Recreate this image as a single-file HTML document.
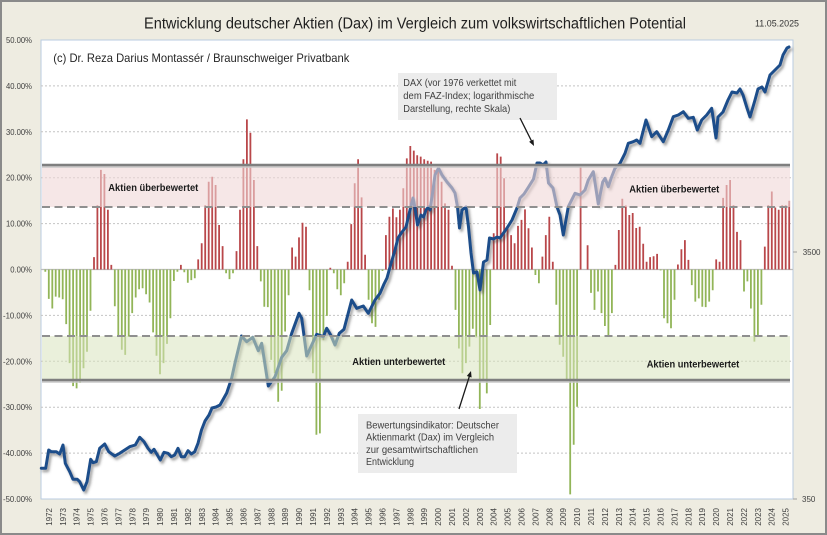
<!DOCTYPE html>
<html><head><meta charset="utf-8"><style>
html,body{margin:0;padding:0;background:#EEECE1;}
svg{display:block;font-family:"Liberation Sans",Arial,sans-serif;}
</style></head><body>
<svg width="827" height="535" viewBox="0 0 827 535" xmlns="http://www.w3.org/2000/svg">
<defs>
<filter id="sh" x="-5%" y="-5%" width="110%" height="110%"><feDropShadow dx="2" dy="2.5" stdDeviation="1.3" flood-color="#404040" flood-opacity="0.5"/></filter>
</defs>
<rect x="1" y="1" width="825" height="533" fill="#EEECE1" stroke="#8A8A8A" stroke-width="2"/>
<rect x="41" y="40" width="752" height="459" fill="#FFFFFF" stroke="#B9CBE0" stroke-width="1"/>
<g stroke="#C4C4C4" stroke-width="1" stroke-dasharray="2,2">
<line x1="41" y1="85.9" x2="793" y2="85.9"/><line x1="41" y1="131.8" x2="793" y2="131.8"/>
<line x1="41" y1="177.7" x2="793" y2="177.7"/><line x1="41" y1="223.6" x2="793" y2="223.6"/>
<line x1="41" y1="315.4" x2="793" y2="315.4"/><line x1="41" y1="361.3" x2="793" y2="361.3"/>
<line x1="41" y1="407.2" x2="793" y2="407.2"/><line x1="41" y1="453.1" x2="793" y2="453.1"/>
</g>
<line x1="41" y1="269.5" x2="793" y2="269.5" stroke="#BDBDBD" stroke-width="1.3"/>
<path fill="none" stroke="#B9474A" stroke-width="1.8" d="M94.0 269.5V257.1M97.4 269.5V205.2M100.9 269.5V169.9M104.4 269.5V174.0M107.9 269.5V209.8M111.3 269.5V264.9M180.9 269.5V264.9M198.2 269.5V259.4M201.7 269.5V243.3M205.2 269.5V205.2M208.7 269.5V181.8M212.2 269.5V176.8M215.6 269.5V185.0M219.1 269.5V225.0M222.6 269.5V246.1M236.5 269.5V251.1M240.0 269.5V209.8M243.4 269.5V159.3M246.9 269.5V119.4M250.4 269.5V132.7M253.9 269.5V180.0M257.3 269.5V246.1M292.1 269.5V247.5M295.6 269.5V256.6M299.0 269.5V237.4M302.5 269.5V222.7M306.0 269.5V226.8M330.3 269.5V267.7M347.7 269.5V261.7M351.2 269.5V224.1M354.7 269.5V183.2M358.1 269.5V159.3M361.6 269.5V197.4M365.1 269.5V254.8M385.9 269.5V235.1M389.4 269.5V216.7M392.9 269.5V208.5M396.4 269.5V217.2M399.9 269.5V209.8M403.3 269.5V188.3M406.8 269.5V158.4M410.3 269.5V146.0M413.8 269.5V150.6M417.2 269.5V155.2M420.7 269.5V156.6M424.2 269.5V159.3M427.7 269.5V160.7M431.1 269.5V161.6M434.6 269.5V169.9M438.1 269.5V168.5M441.6 269.5V181.8M445.0 269.5V203.4M448.5 269.5V209.8M452.0 269.5V265.8M493.7 269.5V233.2M497.2 269.5V153.4M500.7 269.5V156.6M504.1 269.5V178.2M507.6 269.5V228.2M511.1 269.5V235.1M514.6 269.5V243.3M518.0 269.5V225.9M521.5 269.5V219.9M525.0 269.5V209.4M528.5 269.5V228.2M531.9 269.5V247.5M542.4 269.5V256.6M545.8 269.5V235.1M549.3 269.5V216.7M552.8 269.5V261.7M580.6 269.5V166.7M587.6 269.5V245.2M615.4 269.5V264.9M618.8 269.5V230.0M622.3 269.5V198.7M625.8 269.5V205.5M629.3 269.5V215.0M632.7 269.5V213.0M636.2 269.5V228.0M639.7 269.5V226.8M643.2 269.5V243.8M646.6 269.5V261.7M650.1 269.5V257.1M653.6 269.5V256.2M657.1 269.5V253.9M677.9 269.5V264.5M681.4 269.5V249.3M684.9 269.5V240.1M688.4 269.5V259.9M716.2 269.5V259.4M719.6 269.5V261.7M723.1 269.5V197.9M726.6 269.5V185.0M730.1 269.5V180.0M733.5 269.5V205.2M737.0 269.5V231.9M740.5 269.5V240.1M764.8 269.5V246.6M768.3 269.5V205.2M771.8 269.5V191.5M775.3 269.5V207.5M778.7 269.5V209.8M782.2 269.5V205.2M785.7 269.5V205.2M789.2 269.5V200.7"/>
<path fill="none" stroke="#92B558" stroke-width="1.8" d="M45.3 269.5V271.8M48.8 269.5V298.9M52.3 269.5V308.5M55.7 269.5V296.6M59.2 269.5V297.5M62.7 269.5V299.3M66.2 269.5V324.1M69.6 269.5V363.1M73.1 269.5V386.1M76.6 269.5V388.4M80.1 269.5V382.9M83.5 269.5V368.2M87.0 269.5V351.7M90.5 269.5V310.8M114.8 269.5V306.2M118.3 269.5V335.1M121.8 269.5V349.8M125.2 269.5V354.9M128.7 269.5V337.0M132.2 269.5V313.1M135.7 269.5V297.5M139.1 269.5V289.2M142.6 269.5V288.3M146.1 269.5V294.3M149.6 269.5V302.5M153.1 269.5V332.4M156.5 269.5V355.8M160.0 269.5V374.2M163.5 269.5V363.1M167.0 269.5V343.9M170.4 269.5V318.2M173.9 269.5V281.0M177.4 269.5V271.8M184.3 269.5V272.3M187.8 269.5V282.8M191.3 269.5V280.1M194.8 269.5V278.2M226.1 269.5V273.2M229.5 269.5V279.1M233.0 269.5V273.2M260.8 269.5V281.4M264.3 269.5V306.7M267.8 269.5V307.1M271.2 269.5V359.9M274.7 269.5V373.2M278.2 269.5V401.7M281.7 269.5V390.7M285.1 269.5V331.5M288.6 269.5V295.2M309.5 269.5V290.2M312.9 269.5V373.2M316.4 269.5V434.7M319.9 269.5V433.4M323.4 269.5V340.2M326.9 269.5V315.9M333.8 269.5V273.2M337.3 269.5V289.2M340.8 269.5V295.2M344.2 269.5V283.3M368.6 269.5V299.8M372.0 269.5V323.2M375.5 269.5V326.9M379.0 269.5V299.8M382.5 269.5V270.9M455.5 269.5V309.9M458.9 269.5V348.5M462.4 269.5V373.2M465.9 269.5V363.1M469.4 269.5V346.6M472.8 269.5V328.7M476.3 269.5V337.4M479.8 269.5V409.0M483.3 269.5V379.7M486.8 269.5V393.4M490.2 269.5V325.0M535.4 269.5V275.0M538.9 269.5V283.3M556.3 269.5V304.8M559.7 269.5V344.8M563.2 269.5V356.7M566.7 269.5V379.7M570.2 269.5V494.4M573.7 269.5V444.8M577.1 269.5V406.7M591.0 269.5V292.9M594.5 269.5V309.9M598.0 269.5V291.5M601.5 269.5V313.1M604.9 269.5V326.0M608.4 269.5V335.1M611.9 269.5V313.1M660.6 269.5V270.4M664.0 269.5V318.2M667.5 269.5V323.2M671.0 269.5V328.3M674.5 269.5V299.8M691.8 269.5V285.1M695.3 269.5V301.6M698.8 269.5V298.4M702.3 269.5V306.7M705.7 269.5V307.1M709.2 269.5V301.6M712.7 269.5V290.2M744.0 269.5V291.5M747.4 269.5V281.4M750.9 269.5V308.5M754.4 269.5V341.6M757.9 269.5V335.1M761.4 269.5V304.8"/>
<polyline filter="url(#sh)" fill="none" stroke="#1F4D8A" stroke-width="3" stroke-linejoin="round" stroke-linecap="round" points="41.3,468.3 45.7,468.3 48.7,450 51.3,451.7 56.3,451.7 59.7,454 63,445 65.3,463.3 69.7,471.7 73,479.3 77.3,479.3 79.7,481.7 83.7,490 87,481.7 90.7,459.3 93,462.7 96.3,461.7 99.7,448.3 104.7,444 108.7,451.7 114.7,456 119.7,453.3 124.7,450 129.7,446.7 135.3,445 139.7,437.3 144,441.7 148,448.3 151.3,452.3 154,449.3 156.3,453.3 160.3,460 164,452.3 168,453.3 171.3,456.7 174.7,455 178,448.3 181.3,456.7 184.7,456.7 188,450.7 191.3,454 194.7,451.7 198,443.3 201.5,430 205,421 209,415 212,408 216,407 220,405 226.7,393 231.7,378 235,363 241.5,336 246.7,341.7 252.7,337.3 258.3,350.7 261.7,343.3 268.3,386 275,376.7 281.7,357.3 286.7,350.7 291.7,333.3 299,313.3 301.7,318.3 306.7,356 311.7,345 316.7,334.3 323.3,336.7 326.7,328.3 330.7,335 335,345 339.3,333.3 344,329.3 351.7,300 356.7,308.3 363.3,306 368.3,313.3 375,300 380,293.3 384,284 387,278 390,267 395,250 398,238 402,232 406,227 410,210 413,198 415,208 417.5,225 421,215 423.5,217 426,210 428.5,207 430,210 433,190 435,175 438.5,168 442,175 447,182 452,188 455,193 457.5,207 459.5,228 462,210 466,207 468.5,227 471,253 473.5,273 477,272 480,290 483.5,262 487,260 489.5,238 493.5,239 497,237 500,238 503.5,233 507,228 512,220 517,208 520,198 524,194 528.5,187 533.5,179 537,163 540,163 543,165 546,162 548.5,183 553,188 557,207 560,215 563.3,235 568.3,206.7 575,193.3 580,195 585,190 588.3,180 593.3,171.7 598.3,204 602.7,182 605,178.3 608.3,186.7 611.7,176.7 615,168.3 620,163.3 625,153.3 628.3,143.3 633.3,141.7 636.7,140 640,143.3 646,120 651.7,136.7 656.7,131.7 663.3,141.7 668.3,130 673.3,116.7 678.3,115 683.3,111.7 688.3,118.3 693.3,117.3 697.3,130 701.7,120 706.7,115 711.7,108.3 716,138 718,117 723,112 728,100 732,92 737,93 740,89 743,95 747,108 750,117 755,100 758,89 762,87 765,92 770,75 773,72 777,68 780,65 783,55 787,48 789,47"/>
<!-- bands -->
<rect x="42" y="165" width="748" height="42" fill="rgb(240,215,215)" fill-opacity="0.6"/>
<rect x="42" y="336" width="748" height="44" fill="rgb(216,228,190)" fill-opacity="0.55"/>
<line x1="42" y1="167" x2="790" y2="167" stroke="#C8C8C8" stroke-width="1.5"/>
<line x1="42" y1="165" x2="790" y2="165" stroke="#7F7F7F" stroke-width="2.6"/>
<line x1="42" y1="382" x2="790" y2="382" stroke="#C8C8C8" stroke-width="1.5"/>
<line x1="42" y1="380" x2="790" y2="380" stroke="#7F7F7F" stroke-width="2.6"/>
<line x1="42" y1="207" x2="790" y2="207" stroke="#8F8F8F" stroke-width="2" stroke-dasharray="8,4.5"/>
<line x1="42" y1="336" x2="790" y2="336" stroke="#8F8F8F" stroke-width="2" stroke-dasharray="8,4.5"/>
<!-- band labels -->
<g font-weight="bold" font-size="10" fill="#1A1A1A">
<text x="108.3" y="191" textLength="90" lengthAdjust="spacingAndGlyphs">Aktien überbewertet</text>
<text x="629.3" y="192.5" textLength="90" lengthAdjust="spacingAndGlyphs">Aktien überbewertet</text>
<text x="352.3" y="365" textLength="93" lengthAdjust="spacingAndGlyphs">Aktien unterbewertet</text>
<text x="646.7" y="367.5" textLength="92.6" lengthAdjust="spacingAndGlyphs">Aktien unterbewertet</text>
</g>
<!-- annotation boxes -->
<rect x="398" y="73" width="159" height="47" fill="#ECECEC"/>
<g font-size="10.5" fill="#404040">
<text x="403.3" y="86" textLength="113" lengthAdjust="spacingAndGlyphs">DAX (vor 1976 verkettet mit</text>
<text x="403.3" y="99" textLength="131" lengthAdjust="spacingAndGlyphs">dem FAZ-Index; logarithmische</text>
<text x="403.3" y="111.8" textLength="107" lengthAdjust="spacingAndGlyphs">Darstellung, rechte Skala)</text>
</g>
<rect x="358" y="414" width="159" height="59" fill="#ECECEC"/>
<g font-size="10.5" fill="#404040">
<text x="366" y="428.5" textLength="133" lengthAdjust="spacingAndGlyphs">Bewertungsindikator: Deutscher</text>
<text x="366" y="440.7" textLength="128" lengthAdjust="spacingAndGlyphs">Aktienmarkt (Dax) im Vergleich</text>
<text x="366" y="452.9" textLength="112" lengthAdjust="spacingAndGlyphs">zur gesamtwirtschaftlichen</text>
<text x="366" y="465.1" textLength="48" lengthAdjust="spacingAndGlyphs">Entwicklung</text>
</g>
<!-- arrows -->
<line x1="520" y1="118" x2="532" y2="142" stroke="#1A1A1A" stroke-width="1.3"/>
<polygon points="534,146 529.1,141.7 533.5,139.5" fill="#1A1A1A"/>
<line x1="459" y1="409" x2="469.8" y2="375" stroke="#1A1A1A" stroke-width="1.3"/>
<polygon points="471,371 471.6,377.5 466.8,376" fill="#1A1A1A"/>
<!-- title etc -->
<text x="144" y="28.5" font-size="15.5" fill="#1F1F1F" textLength="542" lengthAdjust="spacingAndGlyphs">Entwicklung deutscher Aktien (Dax) im Vergleich zum volkswirtschaftlichen Potential</text>
<text x="755" y="26.5" font-size="9.5" fill="#333333" textLength="44" lengthAdjust="spacingAndGlyphs">11.05.2025</text>
<text x="53.3" y="62" font-size="12" fill="#262626" textLength="296" lengthAdjust="spacingAndGlyphs">(c) Dr. Reza Darius Montassér / Braunschweiger Privatbank</text>
<!-- left axis labels -->
<g font-size="8.5" fill="#404040" text-anchor="end">
<text x="32" y="43" textLength="26" lengthAdjust="spacingAndGlyphs">50.00%</text>
<text x="32" y="88.9" textLength="26" lengthAdjust="spacingAndGlyphs">40.00%</text>
<text x="32" y="134.8" textLength="26" lengthAdjust="spacingAndGlyphs">30.00%</text>
<text x="32" y="180.7" textLength="26" lengthAdjust="spacingAndGlyphs">20.00%</text>
<text x="32" y="226.6" textLength="26" lengthAdjust="spacingAndGlyphs">10.00%</text>
<text x="32" y="272.5" textLength="21.7" lengthAdjust="spacingAndGlyphs">0.00%</text>
<text x="32" y="318.4" textLength="29" lengthAdjust="spacingAndGlyphs">-10.00%</text>
<text x="32" y="364.3" textLength="29" lengthAdjust="spacingAndGlyphs">-20.00%</text>
<text x="32" y="410.2" textLength="29" lengthAdjust="spacingAndGlyphs">-30.00%</text>
<text x="32" y="456.1" textLength="29" lengthAdjust="spacingAndGlyphs">-40.00%</text>
<text x="32" y="502" textLength="29" lengthAdjust="spacingAndGlyphs">-50.00%</text>
</g>
<!-- right axis -->
<line x1="793" y1="252" x2="797" y2="252" stroke="#A0A0A0" stroke-width="1"/>
<line x1="793" y1="499" x2="797" y2="499" stroke="#A0A0A0" stroke-width="1"/>
<g font-size="8" fill="#404040">
<text x="802.7" y="255">3500</text>
<text x="802" y="502">350</text>
</g>
<!-- year labels -->
<g font-size="8" fill="#404040" text-anchor="end">
<text transform="translate(51.9,508) rotate(-90)">1972</text>
<text transform="translate(65.8,508) rotate(-90)">1973</text>
<text transform="translate(79.7,508) rotate(-90)">1974</text>
<text transform="translate(93.6,508) rotate(-90)">1975</text>
<text transform="translate(107.5,508) rotate(-90)">1976</text>
<text transform="translate(121.4,508) rotate(-90)">1977</text>
<text transform="translate(135.3,508) rotate(-90)">1978</text>
<text transform="translate(149.2,508) rotate(-90)">1979</text>
<text transform="translate(163.1,508) rotate(-90)">1980</text>
<text transform="translate(177,508) rotate(-90)">1981</text>
<text transform="translate(190.9,508) rotate(-90)">1982</text>
<text transform="translate(204.8,508) rotate(-90)">1983</text>
<text transform="translate(218.7,508) rotate(-90)">1984</text>
<text transform="translate(232.6,508) rotate(-90)">1985</text>
<text transform="translate(246.5,508) rotate(-90)">1986</text>
<text transform="translate(260.4,508) rotate(-90)">1987</text>
<text transform="translate(274.3,508) rotate(-90)">1988</text>
<text transform="translate(288.2,508) rotate(-90)">1989</text>
<text transform="translate(302.1,508) rotate(-90)">1990</text>
<text transform="translate(316,508) rotate(-90)">1991</text>
<text transform="translate(329.9,508) rotate(-90)">1992</text>
<text transform="translate(343.8,508) rotate(-90)">1993</text>
<text transform="translate(357.7,508) rotate(-90)">1994</text>
<text transform="translate(371.6,508) rotate(-90)">1995</text>
<text transform="translate(385.5,508) rotate(-90)">1996</text>
<text transform="translate(399.4,508) rotate(-90)">1997</text>
<text transform="translate(413.3,508) rotate(-90)">1998</text>
<text transform="translate(427.2,508) rotate(-90)">1999</text>
<text transform="translate(441.1,508) rotate(-90)">2000</text>
<text transform="translate(455,508) rotate(-90)">2001</text>
<text transform="translate(468.9,508) rotate(-90)">2002</text>
<text transform="translate(482.8,508) rotate(-90)">2003</text>
<text transform="translate(496.7,508) rotate(-90)">2004</text>
<text transform="translate(510.6,508) rotate(-90)">2005</text>
<text transform="translate(524.5,508) rotate(-90)">2006</text>
<text transform="translate(538.4,508) rotate(-90)">2007</text>
<text transform="translate(552.3,508) rotate(-90)">2008</text>
<text transform="translate(566.2,508) rotate(-90)">2009</text>
<text transform="translate(580.1,508) rotate(-90)">2010</text>
<text transform="translate(594,508) rotate(-90)">2011</text>
<text transform="translate(607.9,508) rotate(-90)">2012</text>
<text transform="translate(621.8,508) rotate(-90)">2013</text>
<text transform="translate(635.7,508) rotate(-90)">2014</text>
<text transform="translate(649.6,508) rotate(-90)">2015</text>
<text transform="translate(663.5,508) rotate(-90)">2016</text>
<text transform="translate(677.4,508) rotate(-90)">2017</text>
<text transform="translate(691.3,508) rotate(-90)">2018</text>
<text transform="translate(705.2,508) rotate(-90)">2019</text>
<text transform="translate(719.1,508) rotate(-90)">2020</text>
<text transform="translate(733,508) rotate(-90)">2021</text>
<text transform="translate(746.9,508) rotate(-90)">2022</text>
<text transform="translate(760.8,508) rotate(-90)">2023</text>
<text transform="translate(774.7,508) rotate(-90)">2024</text>
<text transform="translate(788.6,508) rotate(-90)">2025</text>
</g>
</svg>
</body></html>
